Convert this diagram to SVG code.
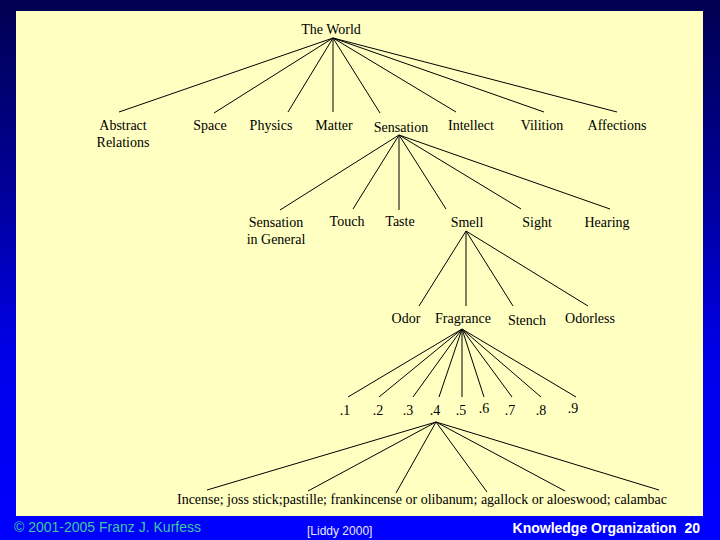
<svg xmlns="http://www.w3.org/2000/svg" width="720" height="540" viewBox="0 0 720 540">
<defs>
<linearGradient id="bg" x1="0" y1="0" x2="0" y2="1">
<stop offset="0" stop-color="#000050"/>
<stop offset="0.35" stop-color="#000098"/>
<stop offset="0.65" stop-color="#0000E8"/>
<stop offset="1" stop-color="#0000FF"/>
</linearGradient>
<style>
.t{font-family:"Liberation Serif","Times New Roman",serif;font-size:14px;fill:#000;text-anchor:middle}
.e line{stroke:#000;stroke-width:1}
.f{font-family:"Liberation Sans",Arial,sans-serif}
</style>
</defs>
<rect x="0" y="0" width="720" height="540" fill="url(#bg)"/>
<rect x="16" y="11" width="687" height="505" fill="#FFFFC2"/>
<g id="connectors" class="e">
<line x1="333" y1="38" x2="119" y2="112"/>
<line x1="333" y1="38" x2="214" y2="113"/>
<line x1="333" y1="38" x2="288" y2="112"/>
<line x1="333" y1="38" x2="333" y2="112"/>
<line x1="333" y1="38" x2="380" y2="113"/>
<line x1="333" y1="38" x2="456" y2="112"/>
<line x1="333" y1="38" x2="544" y2="112"/>
<line x1="333" y1="38" x2="617" y2="112"/>
<line x1="399" y1="135" x2="280" y2="210"/>
<line x1="399" y1="135" x2="353" y2="209"/>
<line x1="399" y1="135" x2="399" y2="210"/>
<line x1="399" y1="135" x2="446" y2="209"/>
<line x1="399" y1="135" x2="521" y2="209"/>
<line x1="399" y1="135" x2="610" y2="209"/>
<line x1="466" y1="231" x2="419" y2="306"/>
<line x1="466" y1="231" x2="466" y2="306"/>
<line x1="466" y1="231" x2="513" y2="306"/>
<line x1="466" y1="231" x2="588" y2="306"/>
<line x1="462" y1="329" x2="348" y2="397"/>
<line x1="462" y1="329" x2="379" y2="397"/>
<line x1="462" y1="329" x2="413" y2="397"/>
<line x1="462" y1="329" x2="439" y2="397"/>
<line x1="462" y1="329" x2="462" y2="397"/>
<line x1="462" y1="329" x2="484" y2="397"/>
<line x1="462" y1="329" x2="512" y2="397"/>
<line x1="462" y1="329" x2="541" y2="397"/>
<line x1="462" y1="329" x2="576" y2="397"/>
<line x1="436" y1="422" x2="207" y2="490"/>
<line x1="436" y1="422" x2="308" y2="491"/>
<line x1="436" y1="422" x2="396" y2="493"/>
<line x1="436" y1="422" x2="487" y2="492"/>
<line x1="436" y1="422" x2="565" y2="491"/>
<line x1="436" y1="422" x2="659" y2="490"/>
</g>
<g id="the-world"><text class="t" x="331" y="34">The World</text></g>
<g id="abstract-relations"><text class="t" x="123" y="130">Abstract</text><text class="t" x="123" y="147">Relations</text></g>
<g id="space"><text class="t" x="210" y="130">Space</text></g>
<g id="physics"><text class="t" x="271" y="130">Physics</text></g>
<g id="matter"><text class="t" x="334" y="130">Matter</text></g>
<g id="sensation"><text class="t" x="401" y="132">Sensation</text></g>
<g id="intellect"><text class="t" x="471" y="130">Intellect</text></g>
<g id="vilition"><text class="t" x="542" y="130">Vilition</text></g>
<g id="affections"><text class="t" x="617" y="130">Affections</text></g>
<g id="sensation-in-general"><text class="t" x="276" y="227">Sensation</text><text class="t" x="276" y="244">in General</text></g>
<g id="touch"><text class="t" x="347" y="226">Touch</text></g>
<g id="taste"><text class="t" x="400" y="226">Taste</text></g>
<g id="smell"><text class="t" x="467" y="227">Smell</text></g>
<g id="sight"><text class="t" x="537" y="227">Sight</text></g>
<g id="hearing"><text class="t" x="607" y="227">Hearing</text></g>
<g id="odor"><text class="t" x="406" y="323">Odor</text></g>
<g id="fragrance"><text class="t" x="463" y="323">Fragrance</text></g>
<g id="stench"><text class="t" x="527" y="325">Stench</text></g>
<g id="odorless"><text class="t" x="590" y="323">Odorless</text></g>
<g id="n1"><text class="t" x="345" y="415">.1</text></g>
<g id="n2"><text class="t" x="378" y="415">.2</text></g>
<g id="n3"><text class="t" x="408" y="415">.3</text></g>
<g id="n4"><text class="t" x="435" y="415">.4</text></g>
<g id="n5"><text class="t" x="461" y="415">.5</text></g>
<g id="n6"><text class="t" x="484" y="413">.6</text></g>
<g id="n7"><text class="t" x="510" y="415">.7</text></g>
<g id="n8"><text class="t" x="541" y="415">.8</text></g>
<g id="n9"><text class="t" x="573" y="413">.9</text></g>
<g id="incense"><text class="t" x="422" y="504" textLength="490" lengthAdjust="spacingAndGlyphs">Incense; joss stick;pastille; frankincense or olibanum; agallock or aloeswood; calambac</text></g>
<g id="footer">
<text class="f" x="14" y="532" font-size="14" fill="#3CC8A0">© 2001-2005 Franz J. Kurfess</text>
<text class="f" x="307" y="535" font-size="12" fill="#E8E8FF">[Liddy 2000]</text>
<text class="f" x="700" y="533" font-size="14" font-weight="bold" fill="#FFFFFF" text-anchor="end" xml:space="preserve">Knowledge Organization  20</text>
</g>
</svg>
